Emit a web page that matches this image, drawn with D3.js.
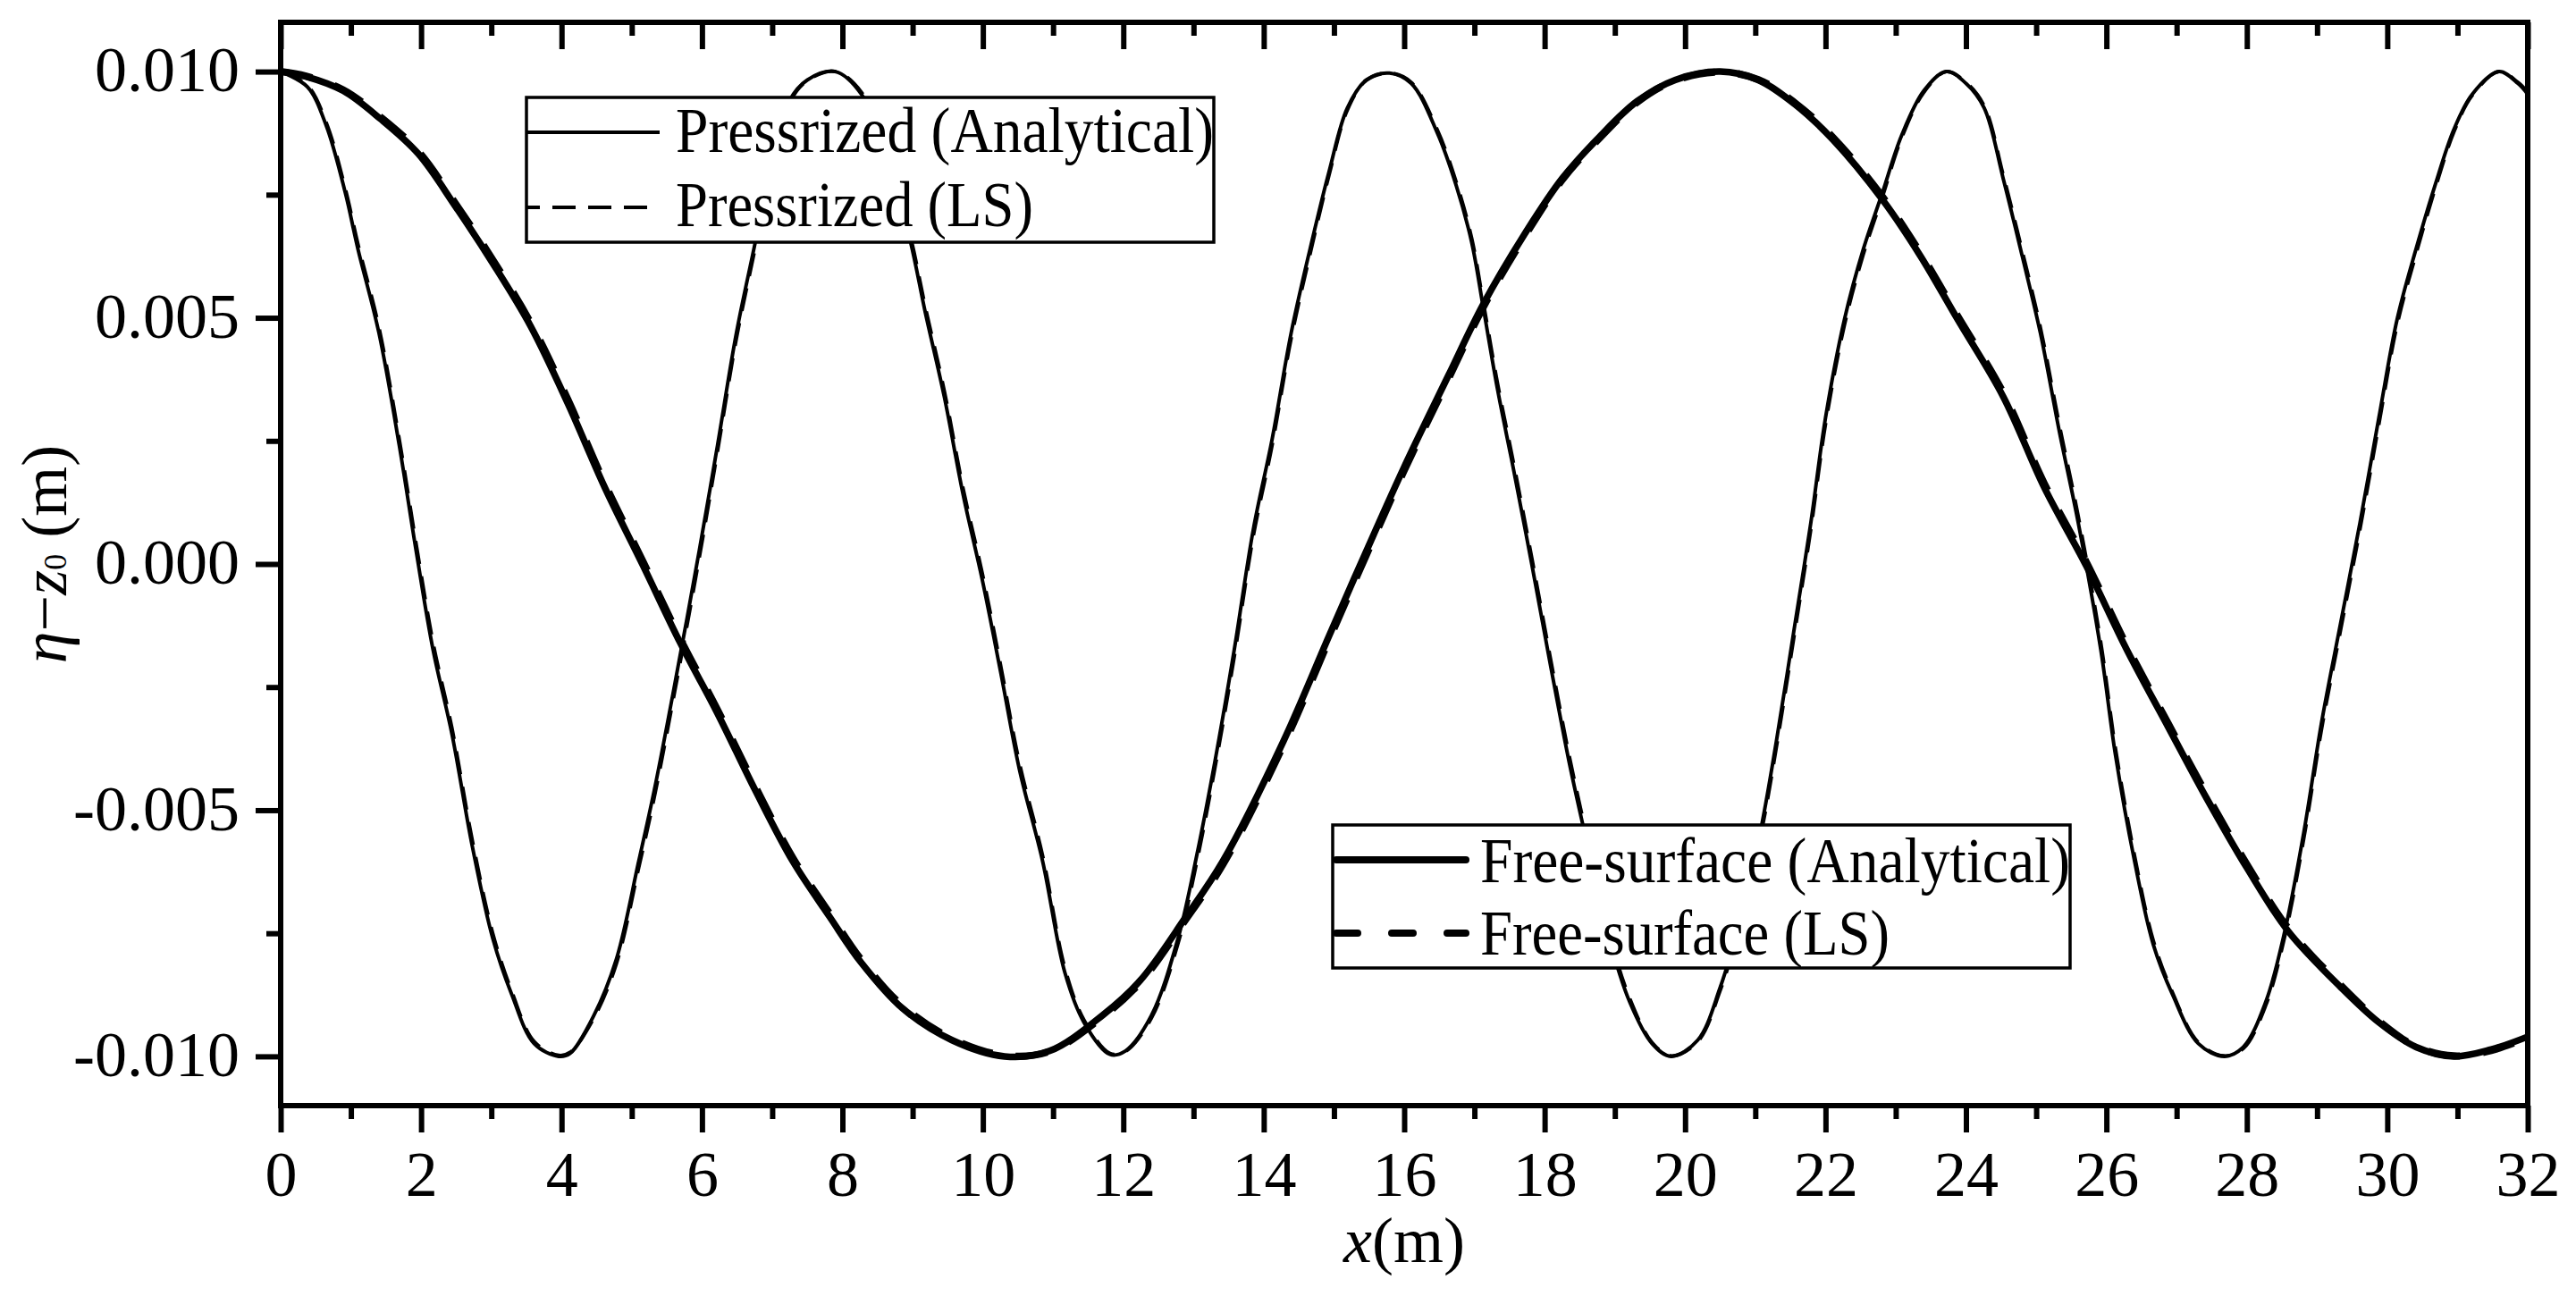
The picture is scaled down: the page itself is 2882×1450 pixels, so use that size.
<!DOCTYPE html>
<html><head><meta charset="utf-8">
<script src="https://cdn.jsdelivr.net/npm/d3@7"></script>
<style>
body{margin:0;background:#fff}
svg{display:block;background:#fff}
text{font-family:"Liberation Serif","Times New Roman",serif;fill:#000}
</style>
</head><body>
<svg id="chart" width="2882" height="1450"></svg>
<script>
// ---- data (values in units of 1e-3 m) ----
const UNIT = 1e-3;
const xThin = [0,0.38,0.65,0.92,1.10,1.40,1.69,1.93,2.17,2.44,2.73,3.02,3.29,3.61,3.96,4.12,4.46,4.78,5.10,5.32,5.61,5.96,6.22,6.49,6.76,7.02,7.24,7.50,7.90,8.27,8.64,8.97,9.18,9.45,9.72,9.99,10.25,10.52,10.85,11.17,11.44,11.81,12.03,12.40,12.78,13.05,13.32,13.58,13.85,14.12,14.39,14.66,14.93,15.19,15.46,15.79,16.10,16.47,16.74,16.96,17.12,17.33,17.55,17.82,18.08,18.35,18.57,18.89,19.21,19.53,19.80,20.18,20.50,20.82,21.09,21.30,21.57,21.79,22.00,22.27,22.54,22.81,23.08,23.40,23.72,24.00,24.26,24.53,24.80,25.06,25.33,25.60,25.92,26.13,26.40,26.67,26.94,27.31,27.68,27.95,28.27,28.54,28.81,29.07,29.34,29.61,29.88,30.14,30.41,30.68,30.95,31.21,31.59,31.86,32.00];
const yPressAnalytical = [10,9.69,8.90,7.54,6.40,4.69,2.40,0.26,-1.74,-3.46,-5.74,-7.60,-8.74,-9.74,-10.0,-9.94,-9.17,-8.03,-6.03,-4.60,-2.46,0.26,2.40,4.69,6.54,8.40,9.40,9.83,10.0,9.54,8.26,6.54,5.11,3.40,1.40,-0.31,-2.17,-4.17,-6.03,-8.31,-9.31,-9.96,-9.89,-9.17,-7.60,-5.89,-3.89,-1.74,0.69,2.54,4.69,6.40,7.97,9.26,9.83,9.97,9.76,8.76,7.69,6.54,5.26,3.54,1.97,-0.03,-2.03,-4.03,-5.46,-7.46,-8.89,-9.74,-10.0,-9.67,-8.60,-7.03,-5.31,-3.60,-1.17,0.83,2.97,4.97,6.40,7.54,8.69,9.61,10.0,9.76,9.26,7.83,6.26,4.69,2.69,0.83,-1.74,-3.89,-6.03,-7.74,-8.74,-9.74,-10.0,-9.81,-8.89,-7.46,-5.46,-3.17,-1.17,0.83,2.97,4.97,6.40,7.69,8.83,9.54,10.0,9.76,9.54];
const yPressLS = [10,9.72,8.96,7.62,6.50,4.80,2.52,0.40,-1.60,-3.34,-5.62,-7.50,-8.68,-9.70,-9.98,-9.92,-9.22,-8.12,-6.16,-4.74,-2.60,0.12,2.28,4.58,6.44,8.32,9.36,9.82,10.0,9.58,8.34,6.64,5.22,3.52,1.52,-0.18,-2.04,-4.04,-5.92,-8.22,-9.26,-9.94,-9.90,-9.22,-7.70,-6.02,-4.02,-1.88,0.56,2.42,4.58,6.30,7.90,9.22,9.82,9.97,9.78,8.82,7.76,6.62,5.36,3.66,2.10,0.10,-1.90,-3.90,-5.34,-7.36,-8.82,-9.72,-9.99,-9.70,-8.66,-7.12,-5.42,-3.72,-1.30,0.70,2.84,4.86,6.30,7.46,8.64,9.58,10.0,9.78,9.30,7.90,6.36,4.80,2.82,0.96,-1.60,-3.76,-5.92,-7.66,-8.70,-9.72,-9.99,-9.84,-8.96,-7.56,-5.58,-3.30,-1.30,0.70,2.84,4.86,6.30,7.62,8.78,9.52,10.0,9.78,9.58];
const xThick = [0,0.36,0.89,1.42,1.96,2.49,3.02,3.56,4.09,4.62,5.16,5.69,6.22,6.76,7.29,7.82,8.27,8.86,9.56,10.31,10.95,11.70,12.24,12.89,13.42,14.28,14.93,15.46,16.00,16.63,17.12,17.71,18.25,18.79,19.32,19.86,20.50,21.04,21.57,22.11,22.81,23.35,23.88,24.53,25.12,25.71,26.29,26.88,27.42,28.00,28.59,29.34,29.88,30.41,30.95,31.48,32.00];
const yFreeAnalytical = [10,9.90,9.61,9.04,8.33,7.26,6.11,4.83,3.26,1.54,-0.03,-1.60,-3.03,-4.60,-6.03,-7.17,-8.10,-9.03,-9.67,-10.0,-9.89,-9.17,-8.46,-7.17,-6.03,-3.60,-1.46,0.26,1.97,3.83,5.26,6.69,7.83,8.69,9.40,9.83,10.0,9.83,9.33,8.61,7.40,6.26,4.97,3.40,1.54,-0.03,-1.74,-3.31,-4.74,-6.17,-7.46,-8.60,-9.31,-9.81,-10.0,-9.86,-9.60];
const yFreeLS = [10,9.91,9.63,9.08,8.38,7.32,6.18,4.90,3.34,1.62,0.05,-1.52,-2.96,-4.52,-5.96,-7.10,-8.04,-8.98,-9.64,-9.98,-9.90,-9.20,-8.50,-7.22,-6.10,-3.68,-1.54,0.18,1.90,3.76,5.20,6.64,7.80,8.66,9.38,9.82,9.99,9.84,9.36,8.66,7.46,6.32,5.04,3.48,1.62,0.05,-1.66,-3.24,-4.66,-6.10,-7.40,-8.56,-9.28,-9.80,-9.99,-9.88,-9.62];
const xMajorTicks = [0,2,4,6,8,10,12,14,16,18,20,22,24,26,28,30,32];
const xMinorTicks = [1,3,5,7,9,11,13,15,17,19,21,23,25,27,29,31];
const yMajorTicks = [-0.010,-0.005,0.000,0.005,0.010];
const yMinorTicks = [-0.0075,-0.0025,0.0025,0.0075];
const legendPress = ["Pressrized (Analytical)","Pressrized (LS)"];
const legendFree = ["Free-surface (Analytical)","Free-surface (LS)"];

// ---- drawing ----
const svg = d3.select("#chart");
const L = 314, R = 2828, T = 25, B = 1237;
const x = d3.scaleLinear().domain([0,32]).range([L,R]);
const y = d3.scaleLinear().domain([-0.011,0.011]).range([B,T]);
const FONT = 72;

function styleAxis(g){
  g.select(".domain").remove();
  g.selectAll(".tick line").attr("stroke","#000").attr("stroke-width",6);
  g.selectAll(".tick text").attr("font-size",FONT).attr("font-family",'"Liberation Serif","Times New Roman",serif').attr("fill","#000");
}

// curves
const mk = (xs, ys) => xs.map((v,i)=>[v, ys[i]*UNIT]);
const line = d3.line().x(d=>x(d[0])).y(d=>y(d[1])).curve(d3.curveCatmullRom.alpha(0.5));
const plot = svg.append("g");
plot.append("path").datum(mk(xThick,yFreeLS)).attr("d",line).attr("fill","none").attr("stroke","#000").attr("stroke-width",8).attr("stroke-dasharray","36,26");
plot.append("path").datum(mk(xThick,yFreeAnalytical)).attr("d",line).attr("fill","none").attr("stroke","#000").attr("stroke-width",7.5);
plot.append("path").datum(mk(xThin,yPressLS)).attr("d",line).attr("fill","none").attr("stroke","#000").attr("stroke-width",4).attr("stroke-dasharray","26,14");
plot.append("path").datum(mk(xThin,yPressAnalytical)).attr("d",line).attr("fill","none").attr("stroke","#000").attr("stroke-width",4);

// axes
const gB = svg.append("g").attr("transform",`translate(0,${B})`)
  .call(d3.axisBottom(x).tickValues(xMajorTicks).tickSize(30).tickPadding(20).tickFormat(d3.format("d")));
styleAxis(gB);
const gBm = svg.append("g").attr("transform",`translate(0,${B})`)
  .call(d3.axisBottom(x).tickValues(xMinorTicks).tickSize(15).tickFormat(""));
styleAxis(gBm);
const gT = svg.append("g").attr("transform",`translate(0,${T})`)
  .call(d3.axisTop(x).tickValues(xMajorTicks).tickSize(-30).tickFormat(""));
styleAxis(gT);
const gTm = svg.append("g").attr("transform",`translate(0,${T})`)
  .call(d3.axisTop(x).tickValues(xMinorTicks).tickSize(-15).tickFormat(""));
styleAxis(gTm);
const gL = svg.append("g").attr("transform",`translate(${L},0)`)
  .call(d3.axisLeft(y).tickValues(yMajorTicks).tickSize(28).tickPadding(18).tickFormat(d=>Math.abs(d)<1e-9?"0.000":d.toFixed(3)));
styleAxis(gL);
gL.selectAll(".tick text").attr("dy","0.30em");
const gLm = svg.append("g").attr("transform",`translate(${L},0)`)
  .call(d3.axisLeft(y).tickValues(yMinorTicks).tickSize(16).tickFormat(""));
styleAxis(gLm);

// frame
svg.append("rect").attr("x",L).attr("y",T).attr("width",R-L).attr("height",B-T)
  .attr("fill","none").attr("stroke","#000").attr("stroke-width",6);

// axis titles
const xt = svg.append("text").attr("x",(L+R)/2).attr("y",1412).attr("text-anchor","middle").attr("font-size",FONT);
xt.append("tspan").attr("font-style","italic").text("x");
xt.append("tspan").text("(m)");

const yt = svg.append("text").attr("transform",`translate(74,620) rotate(-90)`).attr("text-anchor","middle").attr("font-size",FONT);
yt.append("tspan").attr("font-style","italic").text("η");
yt.append("tspan").text("−");
yt.append("tspan").attr("font-style","italic").text("z");
yt.append("tspan").attr("font-size",36).text("0");
yt.append("tspan").text(" (m)");

// legends
function legend(box, rows, widths, styles){
  const g = svg.append("g");
  g.append("rect").attr("x",box[0]).attr("y",box[1]).attr("width",box[2]-box[0]).attr("height",box[3]-box[1])
    .attr("fill","#fff").attr("stroke","#000").attr("stroke-width",3.5);
  rows.forEach((lab,i)=>{
    const s = styles[i];
    g.append("line").attr("x1",s.x1).attr("x2",s.x2).attr("y1",s.ly).attr("y2",s.ly)
      .attr("stroke","#000").attr("stroke-width",s.w)
      .attr("stroke-dasharray",s.dash||null).attr("stroke-dashoffset",s.off||0)
      .attr("stroke-linecap",s.cap||"butt");
    g.append("text").attr("x",s.tx).attr("y",s.by).attr("font-size",71)
      .attr("textLength",widths[i]).attr("lengthAdjust","spacingAndGlyphs").text(lab);
  });
}
legend([589,109,1358,271], legendPress, [602,400], [
  {x1:589,x2:738,ly:148,w:4,tx:756,by:170},
  {x1:589,x2:738,ly:232,w:4,dash:"26,14",off:11,tx:756,by:253}
]);
legend([1491,923,2316,1083], legendFree, [660,458], [
  {x1:1495,x2:1640,ly:962,w:8,cap:"round",tx:1656,by:987},
  {x1:1495,x2:1640,ly:1044,w:8,dash:"24,38",cap:"round",tx:1656,by:1068}
]);
</script>
</body></html>
